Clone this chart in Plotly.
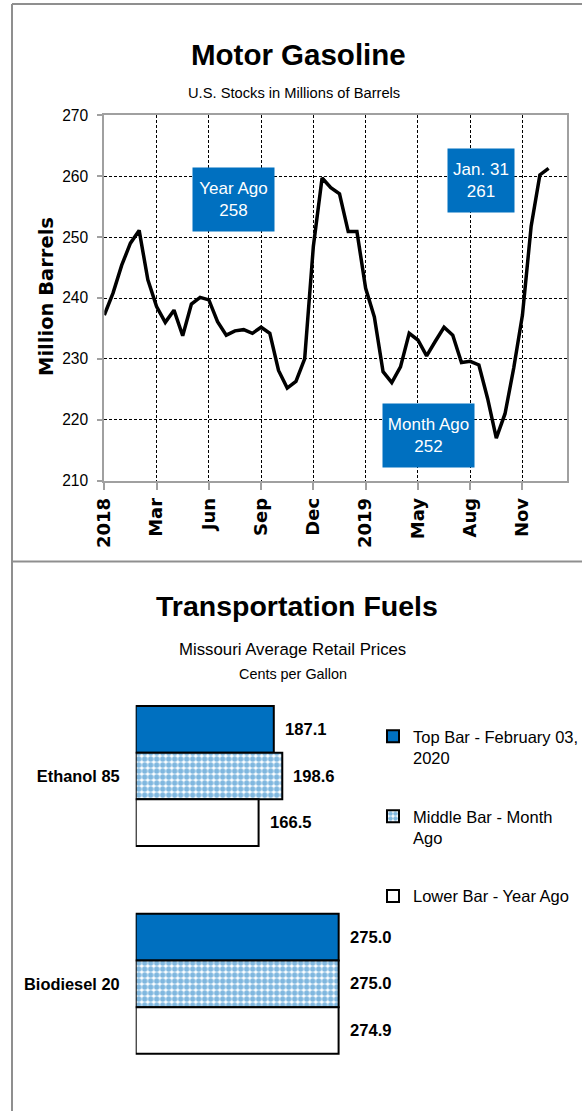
import plotly.graph_objects as go

# ---------------- data ----------------
week_index = list(range(52))
gasoline_stocks = [237.2, 240.8, 245.4, 249.0, 251.1, 243.0, 238.6, 236.0, 238.0, 233.8,
                   239.0, 240.1, 239.7, 236.1, 233.9, 234.6, 234.8, 234.2, 235.2, 234.2,
                   228.1, 225.2, 226.3, 230.0, 248.5, 259.7, 258.1, 257.1, 250.9, 250.9,
                   241.6, 236.9, 227.9, 226.1, 228.7, 234.2, 233.1, 230.5, 232.9, 235.2,
                   233.9, 229.4, 229.6, 229.0, 223.5, 217.0, 221.0, 228.5, 237.2, 251.8,
                   260.2, 261.3]
x_tick_positions = [0, 6, 12, 18, 24, 30, 36, 42, 48]
x_tick_labels = ["2018", "Mar", "Jun", "Sep", "Dec", "2019", "May", "Aug", "Nov"]
y_tick_values = [210, 220, 230, 240, 250, 260, 270]

callout_text = ["Year Ago<br>258", "Jan. 31<br>261", "Month Ago<br>252"]
callout_x = [14.87, 43.27, 37.18]
callout_y = [256.1, 259.3, 217.4]
callout_w = [81, 66, 91]

fuels = ["Ethanol 85", "Biodiesel 20"]
price_current = [187.1, 275.0]
price_month_ago = [198.6, 275.0]
price_year_ago = [166.5, 274.9]
series_names = ["Top Bar - February 03,<br>2020", "Middle Bar - Month<br>Ago", "Lower Bar - Year Ago"]

# ---------------- helpers ----------------
W, H = 582, 1111
def px(x):
    return x / W
def py(y):
    return 1 - y / H

SANS = "Liberation Sans, Arial, sans-serif"
WIDE_BOLD = "DejaVu Sans, Verdana, sans-serif"
BLUE = "#0070C0"
GREY = "#A0A0A0"

fig = go.Figure()

# ---------------- top: line chart ----------------
fig.add_trace(go.Scatter(x=week_index, y=gasoline_stocks, mode="lines",
                         line=dict(color="black", width=3.5), showlegend=False,
                         xaxis="x", yaxis="y"))

# ---------------- bottom: bars ----------------
bar_specs = [
    (price_current, dict(color=BLUE, line=dict(color="black", width=2))),
    (price_month_ago, dict(color="white", line=dict(color="black", width=2),
                           pattern=dict(shape=".", fgcolor=BLUE, bgcolor="white",
                                        size=6, solidity=0.65))),
    (price_year_ago, dict(color="white", line=dict(color="black", width=2))),
]
for i, (vals, mk) in enumerate(bar_specs):
    fig.add_trace(go.Bar(x=vals, y=fuels, orientation="h", marker=mk,
                         name=series_names[i], legendgroup=str(i),
                         xaxis="x2", yaxis="y2", hoverinfo="x"))

bargap = 0.326
bar_w = (1 - bargap) / 3
annotations = []
for i, vals in enumerate([price_current, price_month_ago, price_year_ago]):
    for j, v in enumerate(vals):
        annotations.append(dict(x=v, y=j + (i - 1) * bar_w, xref="x2", yref="y2",
                                text="<b>%.1f</b>" % v, showarrow=False,
                                xanchor="left", yanchor="middle", xshift=9,
                                font=dict(family=SANS, size=16.6, color="black")))

for t, xx, yy, ww in zip(callout_text, callout_x, callout_y, callout_w):
    annotations.append(dict(x=xx, y=yy, xref="x", yref="y", text=t, showarrow=False,
                            xanchor="center", yanchor="middle", width=ww, height=63,
                            bgcolor=BLUE, borderpad=0, align="center",
                            font=dict(family=SANS, size=17, color="white")))

# titles
annotations += [
    dict(x=px(298.5), y=py(54.2), xref="paper", yref="paper", showarrow=False,
         text="<b>Motor Gasoline</b>", font=dict(family=SANS, size=29.5, color="black"),
         xanchor="center", yanchor="middle"),
    dict(x=px(294), y=py(93.3), xref="paper", yref="paper", showarrow=False,
         text="U.S. Stocks in Millions of Barrels", font=dict(family=SANS, size=14.7, color="black"),
         xanchor="center", yanchor="middle"),
    dict(x=px(46), y=py(297), xref="paper", yref="paper", showarrow=False, textangle=-90,
         text="<b>Million Barrels</b>", font=dict(family=WIDE_BOLD, size=19.5, color="black"),
         xanchor="center", yanchor="middle"),
    dict(x=px(297), y=py(605.9), xref="paper", yref="paper", showarrow=False,
         text="<b>Transportation Fuels</b>", font=dict(family=SANS, size=28.5, color="black"),
         xanchor="center", yanchor="middle"),
    dict(x=px(292), y=py(649.7), xref="paper", yref="paper", showarrow=False,
         text="Missouri Average Retail Prices", font=dict(family=SANS, size=16.8, color="black"),
         xanchor="center", yanchor="middle"),
    dict(x=px(293), y=py(674), xref="paper", yref="paper", showarrow=False,
         text="Cents per Gallon", font=dict(family=SANS, size=14.4, color="black"),
         xanchor="center", yanchor="middle"),
]

frame = dict(color="#8F8F8F", width=2)
shapes = [
    dict(type="line", xref="paper", yref="paper", x0=px(12), x1=1, y0=py(4), y1=py(4), line=frame),
    dict(type="line", xref="paper", yref="paper", x0=px(12), x1=px(12), y0=py(4), y1=0, line=frame),
    dict(type="line", xref="paper", yref="paper", x0=px(12), x1=1, y0=py(561.5), y1=py(561.5), line=frame),
]

fig.update_layout(
    width=W, height=H, margin=dict(l=0, r=0, t=0, b=0, autoexpand=False),
    paper_bgcolor="white", plot_bgcolor="white",
    barmode="group", bargap=bargap, bargroupgap=0,
    annotations=annotations, shapes=shapes,
    xaxis=dict(domain=[px(104.3), px(566.7)], range=[0, 53.08],
               tickvals=x_tick_positions, ticktext=x_tick_labels, tickangle=-90,
               tickfont=dict(family=WIDE_BOLD, size=18, color="black", weight="bold"),
               showgrid=True, gridcolor="black", gridwidth=1, griddash="3px,2px",
               showline=True, linecolor=GREY, linewidth=2, mirror=True,
               ticks="outside", ticklen=7, tickcolor=GREY, tickwidth=1.5,
               zeroline=False, ticklabelstandoff=1, anchor="y"),
    yaxis=dict(domain=[py(480.7), py(115.3)], range=[210, 270], tickvals=y_tick_values,
               tickfont=dict(family=SANS, size=15.6, color="black"),
               showgrid=True, gridcolor="black", gridwidth=1, griddash="3px,2px",
               showline=True, linecolor=GREY, linewidth=2, mirror=True,
               ticks="outside", ticklen=5, tickcolor=GREY, tickwidth=1.5,
               zeroline=False, ticklabelstandoff=6, anchor="x"),
    xaxis2=dict(domain=[px(135.7), px(380)], range=[0, 331], visible=False, anchor="y2"),
    yaxis2=dict(domain=[py(1087.7), py(672.1)], type="category", range=[1.5, -0.5],
                tickfont=dict(family=SANS, size=16.4, color="black", weight="bold"),
                showline=False, ticks="", showgrid=False, zeroline=False,
                ticklabelstandoff=15, anchor="x2"),
    legend=dict(x=px(373), y=py(719), xanchor="left", yanchor="top",
                font=dict(family=SANS, size=16.5, color="black"),
                traceorder="grouped", tracegroupgap=34, valign="top",
                bgcolor="rgba(0,0,0,0)"),
    showlegend=True,
)

fig.write_html("out.html", config={"displayModeBar": False},
               post_script="document.body.style.margin='0';document.body.style.overflow='hidden';")
